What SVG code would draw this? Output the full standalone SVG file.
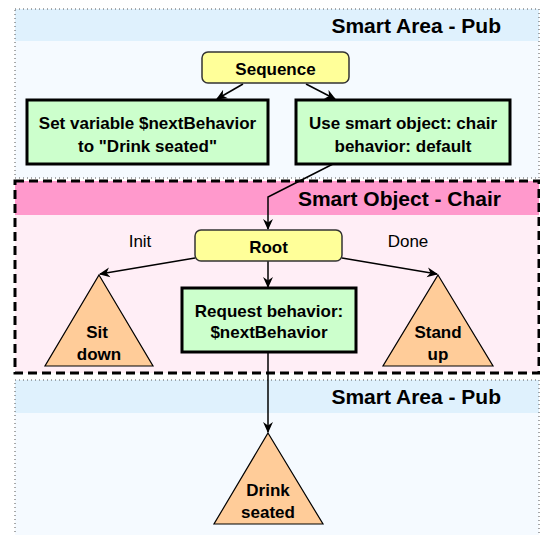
<svg xmlns="http://www.w3.org/2000/svg" width="540" height="535" viewBox="0 0 540 535">
<defs>
<style>
text{font-family:"Liberation Sans",Arial,sans-serif;fill:#000}
.b{font-weight:bold}
.t16{font-size:17px}
.t18{font-size:21px}
.area{stroke:#555;stroke-width:1;stroke-dasharray:1 3}
.yel{fill:#ffff99;stroke:#333;stroke-width:1.5}
.grn{fill:#ccffcc;stroke:#000;stroke-width:3}
.tri{fill:#ffcc99;stroke:#000;stroke-width:1.2}
.edge{fill:none;stroke:#000;stroke-width:1.5;marker-end:url(#arr)}
</style>
<marker id="arr" viewBox="0 0 10 10" refX="9" refY="5" markerWidth="11" markerHeight="11" markerUnits="userSpaceOnUse" orient="auto">
<path d="M0,0.5 L10,5 L0,9.5 L3,5 Z" fill="#000"/>
</marker>
</defs>
<rect width="540" height="535" fill="#fff"/>
<g id="area-pub-top">
<rect x="15" y="9" width="524" height="169" fill="#f5faff"/>
<rect x="15" y="9" width="524" height="32" fill="#dff1fd"/>
<rect x="15" y="9" width="524" height="169" fill="none" class="area"/>
<text x="501" y="33" class="b t18" text-anchor="end">Smart Area - Pub</text>
</g>
<g id="area-pub-bottom">
<rect x="15" y="380" width="524" height="160" fill="#f5faff"/>
<rect x="15" y="380" width="524" height="33" fill="#dff1fd"/>
<rect x="15" y="380" width="524" height="160" fill="none" class="area"/>
<text x="501" y="404" class="b t18" text-anchor="end">Smart Area - Pub</text>
</g>
<g id="area-chair">
<rect x="15" y="181" width="524" height="192" fill="#ffeef6"/>
<rect x="15" y="181" width="524" height="34" fill="#ff99cc"/>
<rect x="15" y="181" width="524" height="192" fill="none" stroke="#000" stroke-width="3" stroke-dasharray="9 5"/>
<text x="501" y="206" class="b t18" text-anchor="end">Smart Object - Chair</text>
</g>
<g id="connectors">
<path class="edge" d="M243,84 L217,99"/>
<path class="edge" d="M306,84 L335,99"/>
<path class="edge" d="M333,164 L268,197 L268,229"/>
<path class="edge" d="M195,258 L100,274"/>
<path class="edge" d="M342,258 L437,274"/>
<path class="edge" d="M268,261 L268,287"/>
<path class="edge" d="M268,352 L268,432"/>
<text x="140" y="247" class="t16" text-anchor="middle">Init</text>
<text x="408" y="247" class="t16" text-anchor="middle">Done</text>
</g>
<g id="node-sequence">
<rect x="202" y="52" width="147" height="31" rx="6" class="yel"/>
<text x="275.5" y="75" class="b t16" text-anchor="middle">Sequence</text>
</g>
<g id="node-setvar">
<rect x="27" y="100" width="241" height="64" class="grn"/>
<text x="147.5" y="129" class="b t16" text-anchor="middle">Set variable $nextBehavior</text>
<text x="147.5" y="152" class="b t16" text-anchor="middle">to "Drink seated"</text>
</g>
<g id="node-usesmart">
<rect x="296" y="100" width="214" height="64" class="grn"/>
<text x="403" y="129" class="b t16" text-anchor="middle">Use smart object: chair</text>
<text x="403" y="152" class="b t16" text-anchor="middle">behavior: default</text>
</g>
<g id="node-root">
<rect x="195" y="230" width="147" height="31" rx="6" class="yel"/>
<text x="268.5" y="253" class="b t16" text-anchor="middle">Root</text>
</g>
<g id="node-sitdown">
<polygon points="99,275 153,366 45,366" class="tri"/>
<text x="97" y="338" class="b t16" text-anchor="middle">Sit</text>
<text x="99" y="360" class="b t16" text-anchor="middle">down</text>
</g>
<g id="node-standup">
<polygon points="438,275 493,366 383,366" class="tri"/>
<text x="438" y="338" class="b t16" text-anchor="middle">Stand</text>
<text x="438" y="360" class="b t16" text-anchor="middle">up</text>
</g>
<g id="node-request">
<rect x="182" y="288" width="174" height="64" class="grn"/>
<text x="269" y="317" class="b t16" text-anchor="middle">Request behavior:</text>
<text x="269" y="338" class="b t16" text-anchor="middle">$nextBehavior</text>
</g>
<g id="node-drink">
<polygon points="268,433 323,524 214,524" class="tri"/>
<text x="268" y="496" class="b t16" text-anchor="middle">Drink</text>
<text x="268" y="518" class="b t16" text-anchor="middle">seated</text>
</g>
</svg>
